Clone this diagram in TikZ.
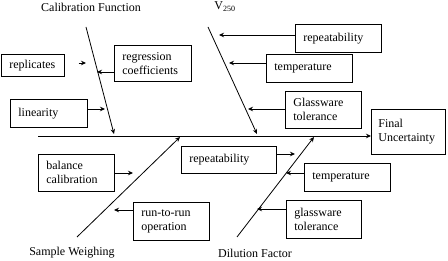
\documentclass[tikz,border=0pt]{standalone}
\usepackage{fontspec}
\setmainfont{Liberation Serif}
\usetikzlibrary{arrows.meta}
\begin{document}
\begin{tikzpicture}[x=1pt,y=-1pt,
  font=\fontsize{12}{14}\selectfont,
  line width=0.8pt,
  bx/.style={draw, line width=0.7pt, anchor=north west, inner xsep=8pt, inner ysep=0pt, align=left},
  arr/.style={-{Stealth[length=5pt,width=4.5pt]}, line width=0.8pt},
  lbl/.style={inner sep=0pt}]
\useasboundingbox (0,0) rectangle (448,261);
% labels
\node[lbl] (calf) at (91,7) {Calibration Function};
\node[lbl, anchor=west] (vtf) at (214,7) {V\textsubscript{250}};
\node[lbl] (sw) at (72,253) {Sample Weighing};
\node[lbl] (df) at (255,253) {Dilution Factor};
% boxes
\node[bx, text width=47pt, minimum height=22pt] (rep) at (1,54) {replicates};
\node[bx, text width=61pt, minimum height=36pt] (reg) at (114,45) {regression\\coefficients};
\node[bx, text width=61pt, minimum height=28pt] (lin) at (10,99) {linearity};
\node[bx, text width=70pt, minimum height=28pt] (rpt) at (295,24) {repeatability};
\node[bx, text width=70pt, minimum height=28pt] (tmpt) at (266,54) {temperature};
\node[bx, text width=60pt, minimum height=37pt] (glt) at (285,91) {Glassware\\tolerance};
\node[bx, text width=60pt, minimum height=45pt, inner xsep=7pt] (fu) at (371,109) {Final\\Uncertainty\\[3pt]};
\node[bx, text width=60pt, minimum height=37pt] (bal) at (38,154) {balance\\calibration};
\node[bx, text width=60pt, minimum height=38pt] (rtr) at (133,202) {run-to-run\\operation};
\node[bx, text width=79pt, minimum height=27pt] (rpb) at (181,146) {repeatability};
\node[bx, text width=70pt, minimum height=28pt] (tmpb) at (304,163) {temperature};
\node[bx, text width=59pt, minimum height=38pt] (glb) at (286,200) {glassware\\tolerance};
% spine and bones
\coordinate (sp0) at (38,136);
\draw[arr] (sp0) -- (fu.west |- sp0);
\coordinate (cb0) at (86,27);  \coordinate (cb1) at (114,134);
\coordinate (vb0) at (208,27); \coordinate (vb1) at (257,134);
\coordinate (sb0) at (77,237); \coordinate (sb1) at (180,137);
\coordinate (db0) at (237,237); \coordinate (db1) at (314,137);
\draw[arr] (cb0) -- (cb1);
\draw[arr] (vb0) -- (vb1);
\draw[arr] (sb0) -- (sb1);
\draw[arr] (db0) -- (db1);
% cause arrows
\draw[arr] ([xshift=14pt]rep.east |- 0,63) -- (86,63);
\draw[arr] (reg.west |- 0,72) -- (97,72);
\draw[arr] (lin.east |- 0,109) -- (105,109);
\draw[arr] (rpt.west |- 0,35) -- (219,35);
\draw[arr] (tmpt.west |- 0,63) -- (229,63);
\draw[arr] (glt.west |- 0,109) -- (248,109);
\draw[arr] (bal.east |- 0,173) -- (133,173);
\draw[arr] (rtr.west |- 0,210) -- (114,210);
\draw[arr] (rpb.east |- 0,154) -- (295,154);
\draw[arr] (tmpb.west |- 0,173) -- (286,173);
\draw[arr] (glb.west |- 0,209) -- (257,209);
\end{tikzpicture}
\end{document}
